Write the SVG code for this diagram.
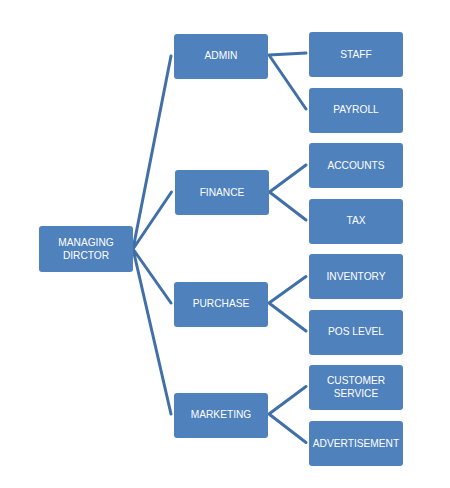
<svg xmlns="http://www.w3.org/2000/svg" width="450" height="488" viewBox="0 0 450 488">
<style>
.box{fill:#4f81bd;}
.t{font-family:"Liberation Sans",Arial,sans-serif;font-size:10.2px;fill:#ffffff;text-anchor:middle;}
.c{stroke:#4170a8;stroke-width:3;fill:none;stroke-linecap:round;stroke-linejoin:round;}
</style>
<rect width="450" height="488" fill="#ffffff"/>
<g id="connectors">
<polyline class="c" points="171,56 133,249 171.5,192"/>
<polyline class="c" points="171,303 133,249 171,414"/>
<polyline class="c" points="306,53 269,55 306,109"/>
<polyline class="c" points="306,165 269.5,192 306,220"/>
<polyline class="c" points="306,276.5 269,303 306,331"/>
<polyline class="c" points="306,386.5 269,414 306,442.5"/>
</g>
<g id="md"><rect class="box" x="39" y="226" width="94" height="46" rx="3"/><text class="t" x="86" y="246">MANAGING</text><text class="t" x="86" y="258.7">DIRCTOR</text></g>
<g id="admin"><rect class="box" x="174" y="34" width="94" height="45" rx="3"/><text class="t" x="221" y="59">ADMIN</text></g>
<g id="finance"><rect class="box" x="175" y="170" width="94" height="45" rx="3"/><text class="t" x="222" y="195.5">FINANCE</text></g>
<g id="purchase"><rect class="box" x="174" y="282" width="94" height="45" rx="3"/><text class="t" x="221" y="307.3">PURCHASE</text></g>
<g id="marketing"><rect class="box" x="174" y="393" width="94" height="45" rx="3"/><text class="t" x="221" y="418.3">MARKETING</text></g>
<g id="staff"><rect class="box" x="309" y="32" width="94" height="45" rx="3"/><text class="t" x="356" y="58.3">STAFF</text></g>
<g id="payroll"><rect class="box" x="309" y="88" width="94" height="45" rx="3"/><text class="t" x="356" y="113.3">PAYROLL</text></g>
<g id="accounts"><rect class="box" x="309" y="143" width="94" height="45" rx="3"/><text class="t" x="356" y="169.3">ACCOUNTS</text></g>
<g id="tax"><rect class="box" x="309" y="199" width="94" height="45" rx="3"/><text class="t" x="356" y="224.3">TAX</text></g>
<g id="inventory"><rect class="box" x="309" y="254" width="94" height="45" rx="3"/><text class="t" x="356" y="280.3">INVENTORY</text></g>
<g id="poslevel"><rect class="box" x="309" y="310" width="94" height="45" rx="3"/><text class="t" x="356" y="335.3">POS LEVEL</text></g>
<g id="customer"><rect class="box" x="309" y="365" width="94" height="45" rx="3"/><text class="t" x="356" y="384.3">CUSTOMER</text><text class="t" x="356" y="397">SERVICE</text></g>
<g id="advert"><rect class="box" x="309" y="421" width="94" height="45" rx="3"/><text class="t" x="356" y="446.7">ADVERTISEMENT</text></g>
</svg>
